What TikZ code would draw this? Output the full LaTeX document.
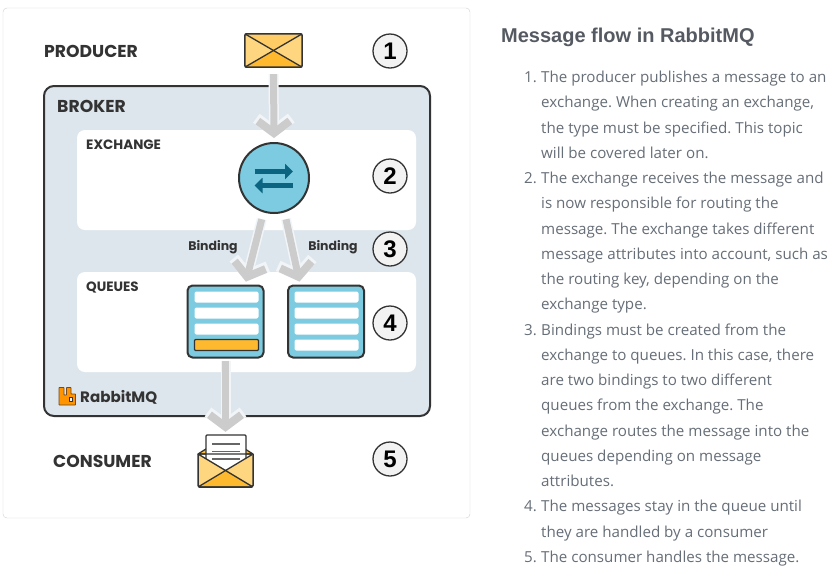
\documentclass[tikz,border=0pt]{standalone}
\usepackage{fontspec}
\setmainfont{Open Sans}
\newfontfamily\labelfont{Poppins}
\newfontfamily\headfont{Liberation Sans}
\usetikzlibrary{arrows.meta}

\definecolor{inkdark}{HTML}{333333}
\definecolor{brokerbg}{HTML}{DEE6ED}
\definecolor{queueblue}{HTML}{7CCBE0}
\definecolor{arrowblue}{HTML}{0C6580}
\definecolor{flowgrey}{HTML}{CCCCCC}
\definecolor{mailpale}{HTML}{FFD680}
\definecolor{mailmid}{HTML}{FFCC66}
\definecolor{maildark}{HTML}{FFB92E}
\definecolor{textgrey}{HTML}{666E77}
\definecolor{headgrey}{HTML}{555A62}

\tikzstyle{panel}=[draw=none, fill=white, rounded corners=8pt]
\tikzstyle{label}=[font=\labelfont\bfseries\fontsize{17.2}{17}\selectfont, text=inkdark, anchor=west, inner sep=0pt]
\tikzstyle{smalllabel}=[font=\labelfont\bfseries\fontsize{13.5}{14}\selectfont, text=inkdark, inner sep=0pt]
\tikzstyle{stepnum}=[circle, draw=inkdark, line width=1.3pt, fill=black!5, minimum size=34pt, inner sep=0pt, font=\headfont\bfseries\fontsize{24}{24}\selectfont]
\tikzstyle{queuebox}=[draw=inkdark, line width=2pt, fill=queueblue, rounded corners=5pt, minimum width=76pt, minimum height=72pt]
\tikzstyle{queuerow}=[fill=white, rounded corners=2pt, minimum width=64pt, minimum height=11pt, inner sep=0pt]
\tikzstyle{mailbox}=[minimum width=57pt, minimum height=33pt, inner sep=0pt]
\tikzstyle{flow}=[draw=flowgrey, line width=7pt, -{Straight Barb[length=12pt,width=32pt,line width=8pt]}]
\tikzstyle{flowhalo}=[draw=white!60!brokerbg, line width=10pt, -{Straight Barb[length=13pt,width=35pt,line width=11pt]}]
\tikzstyle{listline}=[font=\fontsize{15.15}{16}\selectfont\frenchspacing, text=textgrey, inner sep=0pt]

\begin{document}
\begin{tikzpicture}[x=1pt, y=-1pt, line join=round]
	\useasboundingbox (0,0) rectangle (832,571);
	\fill[white] (0,0) rectangle (832,571);
	\draw[draw=black!18, rounded corners=4pt] (3,8) rectangle (470,518);

	\draw[draw=inkdark, line width=2pt, fill=brokerbg, rounded corners=10pt] (44,86) rectangle (430,416);
	\fill[panel] (77,130) rectangle (416,230);
	\fill[panel] (77,272) rectangle (416,372);

	\node[label] (producertext) at (44,51.5) {PRODUCER};
	\node[label] (brokertext) at (57,106) {BROKER};
	\node[label] (consumertext) at (53,461) {CONSUMER};
	\node[smalllabel, anchor=west] (exchangetext) at (86,144.5) {EXCHANGE};
	\node[smalllabel, anchor=west] (queuestext) at (86,287) {QUEUES};
	\node[smalllabel, font=\labelfont\bfseries\fontsize{12.5}{13}\selectfont] (bindingleft) at (213,247) {Binding};
	\node[smalllabel, font=\labelfont\bfseries\fontsize{12.5}{13}\selectfont] (bindingright) at (333,247) {Binding};

	\foreach \pos/\name in {{(390,51)/1}, {(390,176)/2}, {(390,249)/3}, {(390,323)/4}, {(390,459)/5}}
		\node[stepnum] (num\name) at \pos {\name};

	% producer envelope
	\node[mailbox] (producer) at (273.5,50.5) {};
	\fill[mailpale] (producer.north west) rectangle (producer.south east);
	\fill[mailmid] (producer.north west) -- (producer.north east) -- (producer.center) -- cycle;
	\fill[maildark] (producer.south west) -- (producer.south east) -- (producer.center) -- cycle;
	\draw[draw=inkdark, line width=1.3pt] (producer.north west) -- (producer.south east)
		(producer.north east) -- (producer.south west);
	\draw[draw=inkdark, line width=1.5pt, rounded corners=1.5pt] (producer.north west) rectangle (producer.south east);

	% exchange
	\node[circle, draw=inkdark, line width=2pt, fill=queueblue, minimum size=70pt, inner sep=0pt] (exchange) at (274,178) {};
	\draw[draw=arrowblue, line width=5pt, -{Triangle[length=8pt,width=15pt]}] (254.5,171.5) -- (293,171.5);
	\draw[draw=arrowblue, line width=5pt, -{Triangle[length=8pt,width=15pt]}] (293,185.5) -- (254.5,185.5);

	% queues
	\node[queuebox] (queue1) at (225.5,321.5) {};
	\node[queuebox] (queue2) at (326,321.5) {};
	\foreach \yy in {297,313,329}
		\node[queuerow] (rowa\yy) at (226.5,\yy) {};
	\foreach \yy in {297,313,329,345}
		\node[queuerow] (rowb\yy) at (326.5,\yy) {};
	\node[queuerow, fill=maildark, draw=inkdark, line width=1.2pt, rounded corners=1pt] (rowa345) at (226.5,345) {};

	% consumer envelope
	\node[minimum width=55pt, minimum height=52pt, inner sep=0pt] (consumer) at (225.5,461) {};
	\fill[maildark!80!mailpale, draw=inkdark, line width=1.3pt] (198,454) -- (206,449) -- (245,449) -- (253,454) -- cycle;
	\draw[fill=white, draw=inkdark, line width=1.3pt, rounded corners=1pt] (206,472) -- (206,435) -- (246,435) -- (246,472);
	\foreach \yy in {444,451.5,459}
		\draw[draw=black!60, line width=1.2pt] (212,\yy) -- (240,\yy);
	\fill[mailpale] (198,454) -- (226,470) -- (253,454) -- (253,487) -- (198,487) -- cycle;
	\fill[maildark] (198,487) -- (226,470) -- (253,487) -- cycle;
	\draw[draw=inkdark, line width=1.3pt, rounded corners=1pt] (253,454) -- (198,487) -- (253,487) -- (198,454) -- cycle;
	\draw[draw=inkdark, line width=1.5pt, rounded corners=1.5pt] (198,454) -- (198,487) -- (253,487) -- (253,454);

	% flows
	\foreach \source/\dest/\gapa/\gapb in {producer.south/exchange.north/7pt/4pt, exchange.253/queue1.62/7pt/3pt, exchange.287/queue2.125/7pt/3pt, queue1.south/consumer.north/2pt/3pt}
	{
		\path[flowhalo, shorten <=\gapa, shorten >=\gapb] (\source) -- (\dest);
		\path[flow, shorten <=\gapa, shorten >=\gapb] (\source) -- (\dest);
	}

	% logo
	\draw[fill=orange!85!yellow, draw=inkdark!70!orange, line width=.8pt, rounded corners=.5pt] (59,387.5) -- (64,387.5) -- (64,395) -- (66.5,395) -- (66.5,387.5) -- (71,387.5) -- (71,394) -- (75.5,394) -- (75.5,405) -- (59,405) -- cycle;
	\draw[fill=white!60!brokerbg, draw=inkdark, line width=.7pt] (69,397.5) rectangle (72.5,401);
	\node[smalllabel, anchor=west, font=\labelfont\bfseries\fontsize{15.1}{16}\selectfont] (logotext) at (80,397) {RabbitMQ};

	% text column
	\node[anchor=base west, inner sep=0pt, text=headgrey, font=\headfont\bfseries\fontsize{20}{20}\selectfont] (heading) at (501,42) {Message flow in RabbitMQ};
	\foreach \txt [count=\ii from 0] in {The producer publishes a message to an, {exchange. When creating an exchange,}, the type must be specified. This topic, will be covered later on., The exchange receives the message and, is now responsible for routing the, message. The exchange takes different, message attributes into account{,} such as, the routing key{,} depending on the, exchange type., Bindings must be created from the, exchange to queues. In this case{,} there, are two bindings to two different, queues from the exchange. The, exchange routes the message into the, queues depending on message, attributes., The messages stay in the queue until, they are handled by a consumer, The consumer handles the message.}
		\node[listline, anchor=base west] (line\ii) at (541,{82.5+25.26*\ii}) {\txt};
	\foreach \ii/\nr in {0/1, 4/2, 10/3, 17/4, 19/5}
		\node[listline, anchor=base east] (item\nr) at (537,{82.5+25.26*\ii}) {\nr.};
\end{tikzpicture}
\end{document}
